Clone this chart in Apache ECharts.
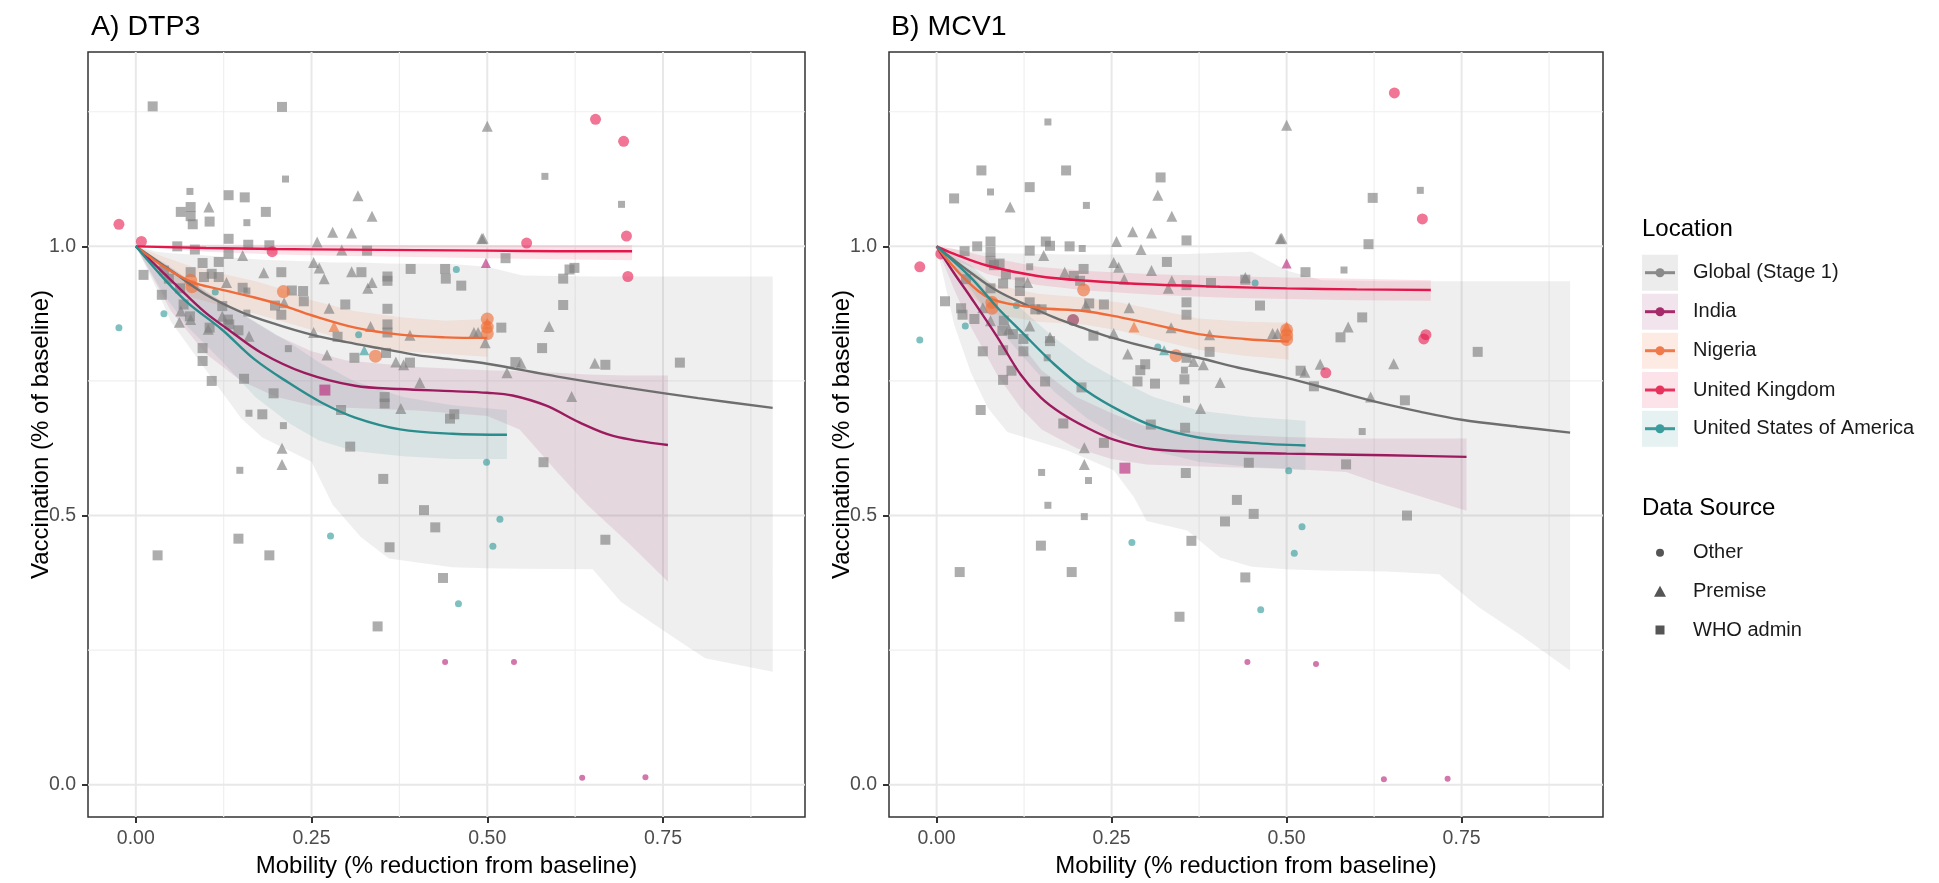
<!DOCTYPE html>
<html><head><meta charset="utf-8">
<script src="https://cdn.jsdelivr.net/npm/echarts@6/dist/echarts.min.js"></script>
<style>html,body{margin:0;padding:0;background:#fff;}#c{width:1939px;height:883px;}</style>
</head><body><div id="c"></div>
<script>
// ---------- axis ticks / labels ----------
const xTicks = [0, 0.25, 0.5, 0.75];
const xTickLabels = ['0.00', '0.25', '0.50', '0.75'];
const yTicks = [0, 0.5, 1.0];
const yTickLabels = ['0.0', '0.5', '1.0'];
const xMinor = [0.125, 0.375, 0.625, 0.875];
const yMinor = [0.25, 0.75, 1.25];
const panelTitles = ['A) DTP3', 'B) MCV1'];
const xTitle = 'Mobility (% reduction from baseline)';
const yTitle = 'Vaccination (% of baseline)';
const locations = ['Global (Stage 1)', 'India', 'Nigeria', 'United Kingdom', 'United States of America'];
const sources = ['Other', 'Premise', 'WHO admin'];

// ---------- Panel A (DTP3) ----------
const whoLargeA = [[0.024,1.26],[0.208,1.259],[0.132,1.095],[0.155,1.091],[0.064,1.064],[0.078,1.073],[0.078,1.056],[0.081,1.041],[0.105,1.046],[0.185,1.064],[0.329,0.992],[0.132,1.014],[0.132,0.986],[0.16,1.003],[0.19,1.002],[0.059,1.0],[0.084,0.994],[0.095,0.969],[0.118,0.971],[0.011,0.947],[0.04,0.955],[0.047,0.94],[0.078,0.952],[0.108,0.949],[0.097,0.943],[0.118,0.943],[0.207,0.952],[0.321,0.952],[0.358,0.944],[0.358,0.936],[0.391,0.958],[0.44,0.958],[0.441,0.94],[0.463,0.927],[0.037,0.91],[0.063,0.922],[0.152,0.923],[0.222,0.918],[0.238,0.917],[0.239,0.898],[0.198,0.89],[0.207,0.873],[0.068,0.892],[0.123,0.889],[0.077,0.87],[0.131,0.864],[0.105,0.849],[0.146,0.844],[0.133,0.855],[0.298,0.892],[0.358,0.884],[0.287,0.832],[0.358,0.855],[0.358,0.84],[0.311,0.793],[0.356,0.802],[0.39,0.784],[0.095,0.811],[0.095,0.787],[0.108,0.75],[0.154,0.754],[0.196,0.727],[0.354,0.72],[0.354,0.708],[0.292,0.696],[0.18,0.688],[0.447,0.68],[0.453,0.688],[0.305,0.628],[0.352,0.568],[0.41,0.51],[0.426,0.478],[0.146,0.457],[0.668,0.455],[0.361,0.441],[0.031,0.426],[0.19,0.426],[0.437,0.384],[0.344,0.294],[0.58,0.599],[0.526,0.978],[0.624,0.96],[0.617,0.957],[0.608,0.94],[0.608,0.891],[0.52,0.849],[0.578,0.811],[0.54,0.785],[0.668,0.78],[0.774,0.784]];
const whoSmallA = [[0.213,1.125],[0.077,1.102],[0.158,1.044],[0.158,0.917],[0.158,0.876],[0.217,0.81],[0.161,0.69],[0.21,0.667],[0.148,0.584],[0.582,1.13],[0.691,1.078]];
const premiseA = [[0.104,1.073],[0.316,1.094],[0.336,1.056],[0.28,1.026],[0.307,1.025],[0.258,1.008],[0.293,0.993],[0.152,0.983],[0.182,0.951],[0.253,0.97],[0.261,0.96],[0.268,0.94],[0.307,0.953],[0.336,0.933],[0.33,0.922],[0.492,1.014],[0.129,0.933],[0.211,0.895],[0.064,0.88],[0.123,0.87],[0.062,0.859],[0.078,0.864],[0.103,0.846],[0.161,0.833],[0.275,0.885],[0.253,0.84],[0.334,0.851],[0.39,0.835],[0.481,0.84],[0.487,0.84],[0.497,0.821],[0.272,0.798],[0.37,0.785],[0.381,0.78],[0.404,0.747],[0.377,0.699],[0.208,0.625],[0.208,0.595],[0.5,1.223],[0.494,1.015],[0.588,0.851],[0.548,0.783],[0.528,0.765],[0.653,0.783],[0.62,0.721]];
const ukOtherA = [[-0.024,1.041],[0.008,1.009],[0.194,0.99],[0.654,1.236],[0.694,1.195],[0.698,1.019],[0.556,1.006],[0.7,0.944]];
const usaOtherA = [[-0.024,0.849],[0.04,0.875],[0.113,0.915],[0.317,0.836],[0.456,0.957],[0.499,0.599],[0.518,0.493],[0.277,0.462],[0.508,0.443],[0.459,0.336]];
const usaPremiseA = [[0.325,0.807]];
const ngaOtherA = [[0.078,0.937],[0.08,0.925],[0.21,0.916],[0.341,0.796],[0.5,0.865],[0.5,0.85],[0.5,0.838]];
const ngaPremiseA = [[0.282,0.851],[0.5,0.857]];
const indWhoA = [[0.269,0.733]];
const indPremiseA = [[0.498,0.969]];
const indOtherA = [[0.44,0.228],[0.538,0.228],[0.635,0.013],[0.725,0.014]];

const globalFitA = [[0,1],[0.05,0.955],[0.1,0.91],[0.15,0.878],[0.2,0.855],[0.25,0.836],[0.3,0.822],[0.35,0.81],[0.4,0.798],[0.45,0.79],[0.5,0.782],[0.6,0.758],[0.7,0.737],[0.8,0.718],[0.906,0.7]];
const indiaFitA = [[0,1],[0.04,0.95],[0.074,0.907],[0.1,0.876],[0.131,0.846],[0.179,0.802],[0.24,0.765],[0.312,0.741],[0.376,0.735],[0.45,0.731],[0.5,0.728],[0.536,0.723],[0.584,0.704],[0.631,0.673],[0.679,0.648],[0.757,0.631]];
const nigeriaFitA = [[0,1],[0.04,0.962],[0.079,0.934],[0.12,0.92],[0.169,0.905],[0.21,0.89],[0.25,0.872],[0.312,0.849],[0.376,0.836],[0.44,0.831],[0.5,0.83]];
const ukFitA = [[0,1],[0.1,0.997],[0.2,0.995],[0.3,0.994],[0.4,0.993],[0.5,0.992],[0.6,0.991],[0.706,0.991]];
const usaFitA = [[0,1],[0.04,0.94],[0.074,0.895],[0.122,0.846],[0.169,0.79],[0.217,0.747],[0.264,0.71],[0.312,0.682],[0.376,0.66],[0.45,0.652],[0.528,0.65]];

const globalBandA = [[0,1,1],[0.03,0.92,0.99],[0.05,0.86,0.987],[0.1,0.77,0.983],[0.15,0.68,0.978],[0.18,0.645,0.975],[0.25,0.6,0.972],[0.28,0.52,0.97],[0.32,0.46,0.97],[0.36,0.42,0.968],[0.45,0.404,0.967],[0.5,0.402,0.962],[0.55,0.401,0.946],[0.65,0.4,0.944],[0.69,0.34,0.944],[0.76,0.278,0.944],[0.81,0.235,0.944],[0.906,0.21,0.944]];
const indiaBandA = [[0,1,1],[0.05,0.88,0.96],[0.1,0.8,0.915],[0.15,0.75,0.875],[0.2,0.72,0.835],[0.25,0.705,0.805],[0.3,0.7,0.788],[0.4,0.695,0.776],[0.5,0.685,0.77],[0.546,0.66,0.768],[0.6,0.58,0.765],[0.642,0.52,0.762],[0.7,0.45,0.76],[0.757,0.377,0.76]];
const nigeriaBandA = [[0,1,1],[0.04,0.94,0.98],[0.08,0.905,0.962],[0.12,0.89,0.95],[0.17,0.875,0.935],[0.21,0.86,0.92],[0.25,0.845,0.9],[0.31,0.82,0.88],[0.38,0.805,0.868],[0.44,0.8,0.862],[0.5,0.795,0.865]];
const ukBandA = [[0,1,1],[0.1,0.99,1.003],[0.2,0.985,1.003],[0.3,0.982,1.003],[0.4,0.98,1.002],[0.5,0.978,1.002],[0.6,0.976,1.002],[0.706,0.974,1.002]];
const usaBandA = [[0,1,1],[0.04,0.91,0.97],[0.074,0.85,0.94],[0.12,0.79,0.9],[0.17,0.72,0.86],[0.22,0.67,0.82],[0.26,0.64,0.785],[0.31,0.62,0.75],[0.38,0.61,0.72],[0.45,0.605,0.705],[0.528,0.605,0.696]];

// ---------- Panel B (MCV1) ----------
const whoLargeB = [[0.064,1.141],[0.185,1.141],[0.025,1.089],[0.133,1.11],[0.32,1.128],[0.357,1.011],[0.329,0.971],[0.04,0.991],[0.058,1.0],[0.077,1.009],[0.077,0.99],[0.077,0.973],[0.082,0.965],[0.09,0.968],[0.133,0.992],[0.156,1.009],[0.162,1.001],[0.19,1.0],[0.196,0.945],[0.21,0.958],[0.205,0.936],[0.357,0.928],[0.392,0.932],[0.441,0.938],[0.462,0.89],[0.357,0.896],[0.357,0.873],[0.239,0.892],[0.218,0.894],[0.224,0.834],[0.39,0.804],[0.357,0.793],[0.298,0.781],[0.291,0.77],[0.287,0.749],[0.312,0.745],[0.354,0.753],[0.355,0.663],[0.306,0.669],[0.239,0.635],[0.181,0.671],[0.207,0.738],[0.155,0.749],[0.133,0.896],[0.15,0.883],[0.141,0.883],[0.119,0.933],[0.119,0.917],[0.095,0.931],[0.099,0.948],[0.077,0.922],[0.042,0.939],[0.012,0.898],[0.035,0.885],[0.037,0.873],[0.054,0.865],[0.066,0.805],[0.096,0.862],[0.094,0.843],[0.109,0.837],[0.124,0.828],[0.124,0.805],[0.095,0.807],[0.107,0.769],[0.095,0.752],[0.063,0.696],[0.162,0.824],[0.623,1.09],[0.617,1.004],[0.527,0.952],[0.608,0.868],[0.577,0.831],[0.773,0.804],[0.52,0.769],[0.539,0.74],[0.669,0.714],[0.149,0.444],[0.033,0.395],[0.193,0.395],[0.356,0.579],[0.446,0.598],[0.585,0.595],[0.429,0.529],[0.453,0.503],[0.412,0.489],[0.364,0.453],[0.441,0.385],[0.347,0.312],[0.672,0.5]];
const whoSmallB = [[0.159,1.231],[0.077,1.101],[0.214,1.076],[0.133,0.962],[0.208,0.996],[0.158,0.793],[0.354,0.77],[0.357,0.716],[0.691,1.104],[0.582,0.956],[0.608,0.656],[0.15,0.58],[0.217,0.565],[0.159,0.519],[0.211,0.498]];
const premiseB = [[0.105,1.073],[0.316,1.095],[0.336,1.056],[0.28,1.027],[0.307,1.025],[0.257,1.009],[0.292,0.994],[0.153,0.983],[0.183,0.952],[0.253,0.97],[0.26,0.961],[0.268,0.939],[0.307,0.955],[0.336,0.936],[0.331,0.922],[0.441,0.942],[0.491,1.014],[0.213,0.89],[0.275,0.886],[0.253,0.838],[0.335,0.849],[0.39,0.836],[0.48,0.838],[0.487,0.838],[0.367,0.786],[0.381,0.78],[0.405,0.747],[0.273,0.8],[0.377,0.699],[0.162,0.831],[0.133,0.852],[0.13,0.933],[0.066,0.886],[0.077,0.862],[0.103,0.846],[0.5,1.225],[0.493,1.015],[0.588,0.85],[0.653,0.782],[0.526,0.766],[0.548,0.781],[0.62,0.72],[0.211,0.626],[0.211,0.595]];
const ukOtherB = [[-0.024,0.962],[0.006,0.986],[0.654,1.285],[0.694,1.051],[0.699,0.836],[0.696,0.828],[0.556,0.765]];
const usaOtherB = [[-0.024,0.826],[0.041,0.852],[0.114,0.89],[0.316,0.813],[0.455,0.932],[0.503,0.583],[0.279,0.45],[0.522,0.479],[0.511,0.43],[0.463,0.325]];
const usaPremiseB = [[0.325,0.807]];
const ngaOtherB = [[0.079,0.896],[0.079,0.885],[0.21,0.919],[0.342,0.797],[0.5,0.845],[0.5,0.835],[0.5,0.827]];
const ngaPremiseB = [[0.282,0.85],[0.5,0.85]];
const indWhoB = [[0.269,0.588]];
const indPremiseB = [[0.5,0.968]];
const indOtherB = [[0.444,0.228],[0.542,0.224],[0.639,0.01],[0.73,0.011]];
const indOtherLargeB = [[0.195,0.863]];

const globalFitB = [[0,1],[0.05,0.95],[0.087,0.917],[0.13,0.89],[0.168,0.868],[0.21,0.848],[0.249,0.831],[0.31,0.81],[0.374,0.793],[0.43,0.775],[0.498,0.756],[0.56,0.735],[0.625,0.712],[0.69,0.693],[0.75,0.678],[0.83,0.665],[0.905,0.654]];
const indiaFitB = [[0,1],[0.025,0.95],[0.049,0.905],[0.087,0.831],[0.12,0.762],[0.149,0.719],[0.177,0.691],[0.215,0.663],[0.253,0.641],[0.31,0.623],[0.4,0.618],[0.5,0.615],[0.643,0.612],[0.757,0.609]];
const nigeriaFitB = [[0,1],[0.04,0.94],[0.079,0.902],[0.144,0.886],[0.21,0.88],[0.263,0.868],[0.31,0.855],[0.374,0.837],[0.44,0.828],[0.503,0.823]];
const ukFitB = [[0,1],[0.025,0.986],[0.073,0.964],[0.144,0.945],[0.215,0.936],[0.31,0.929],[0.405,0.925],[0.5,0.922],[0.6,0.92],[0.706,0.919]];
const usaFitB = [[0,1],[0.049,0.942],[0.087,0.886],[0.12,0.843],[0.168,0.781],[0.215,0.731],[0.263,0.694],[0.31,0.666],[0.374,0.645],[0.45,0.635],[0.527,0.63]];

const globalBandB = [[0,1,1],[0.025,0.855,0.995],[0.049,0.765,0.99],[0.073,0.7,0.988],[0.101,0.655,0.987],[0.187,0.621,0.985],[0.253,0.584,0.985],[0.282,0.534,0.985],[0.3,0.49,0.985],[0.358,0.472,0.986],[0.405,0.422,0.988],[0.45,0.405,0.99],[0.5,0.4,0.955],[0.55,0.398,0.937],[0.643,0.396,0.935],[0.718,0.391,0.935],[0.775,0.329,0.935],[0.833,0.279,0.935],[0.905,0.212,0.935]];
const indiaBandB = [[0,1,1],[0.025,0.92,0.975],[0.049,0.85,0.95],[0.087,0.76,0.89],[0.12,0.7,0.82],[0.15,0.66,0.77],[0.2,0.625,0.72],[0.25,0.605,0.69],[0.3,0.595,0.665],[0.4,0.59,0.652],[0.5,0.587,0.646],[0.585,0.581,0.643],[0.633,0.559,0.643],[0.68,0.54,0.643],[0.757,0.509,0.643]];
const nigeriaBandB = [[0,1,1],[0.04,0.92,0.965],[0.079,0.875,0.93],[0.144,0.86,0.912],[0.21,0.855,0.905],[0.263,0.843,0.895],[0.31,0.828,0.883],[0.374,0.808,0.866],[0.44,0.797,0.86],[0.503,0.79,0.858]];
const ukBandB = [[0,1,1],[0.025,0.975,0.995],[0.073,0.948,0.98],[0.144,0.928,0.962],[0.215,0.918,0.954],[0.31,0.91,0.948],[0.405,0.905,0.945],[0.5,0.902,0.942],[0.6,0.9,0.94],[0.706,0.899,0.937]];
const usaBandB = [[0,1,1],[0.049,0.92,0.965],[0.087,0.85,0.92],[0.12,0.8,0.885],[0.168,0.73,0.83],[0.215,0.68,0.785],[0.263,0.645,0.75],[0.31,0.62,0.72],[0.374,0.6,0.695],[0.45,0.59,0.683],[0.527,0.584,0.676]];

// ---------- styles ----------
const FONT = "'Liberation Sans', Arial, sans-serif";
const lineCol = ['#6e6e6e', '#9c1b5e', '#ef6c3a', '#e3174b', '#2a8c8c'];
const bandCol = ['rgba(128,128,128,0.13)', 'rgba(156,27,94,0.11)', 'rgba(240,112,58,0.12)', 'rgba(227,23,75,0.12)', 'rgba(42,140,140,0.11)'];
const ptGray = 'rgba(127,127,127,0.8)';
const ptUK = 'rgba(232,25,79,0.75)';
const ptUSA = 'rgba(42,150,150,0.75)';
const ptNGA = 'rgba(240,112,58,0.8)';
const ptIND = 'rgba(184,40,124,0.8)';

function gridLinesSeries(gi) {
  return {
    type: 'custom', xAxisIndex: gi, yAxisIndex: gi, silent: true, z: 0,
    data: [[0, 0]],
    renderItem: function (params, api) {
      const cs = params.coordSys;
      const ch = [];
      const add = (arr, vertical, w, col) => arr.forEach(v => {
        if (vertical) {
          const p = api.coord([v, 0]);
          ch.push({ type: 'line', shape: { x1: p[0], y1: cs.y, x2: p[0], y2: cs.y + cs.height }, style: { stroke: col, lineWidth: w } });
        } else {
          const p = api.coord([0, v]);
          ch.push({ type: 'line', shape: { x1: cs.x, y1: p[1], x2: cs.x + cs.width, y2: p[1] }, style: { stroke: col, lineWidth: w } });
        }
      });
      add(xMinor, true, 1.2, '#efefef'); add(yMinor, false, 1.2, '#efefef');
      add(xTicks, true, 2, '#e8e8e8'); add(yTicks, false, 2, '#e8e8e8');
      return { type: 'group', children: ch };
    }
  };
}
function bandSeries(gi, band, col) {
  return {
    type: 'custom', xAxisIndex: gi, yAxisIndex: gi, silent: true, z: 1,
    data: band, encode: { x: 0, y: [1, 2] },
    renderItem: function (params, api) {
      if (params.dataIndex !== 0) return null;
      const up = band.map(d => api.coord([d[0], d[2]]));
      const lo = band.map(d => api.coord([d[0], d[1]])).reverse();
      return { type: 'polygon', shape: { points: up.concat(lo) }, style: { fill: col } };
    }
  };
}
function lineSeries(gi, data, col) {
  return { type: 'line', xAxisIndex: gi, yAxisIndex: gi, data: data, smooth: 0.35, showSymbol: false, silent: true, z: 4,
    lineStyle: { color: col, width: 2.4 } };
}
function scat(gi, data, symbol, size, col) {
  return { type: 'scatter', xAxisIndex: gi, yAxisIndex: gi, data: data, symbol: symbol, symbolSize: size, silent: true, z: 3,
    itemStyle: { color: col } };
}

function panelSeries(gi, P) {
  return [
    gridLinesSeries(gi),
    bandSeries(gi, P.bands[0], bandCol[0]),
    bandSeries(gi, P.bands[1], bandCol[1]),
    bandSeries(gi, P.bands[2], bandCol[2]),
    bandSeries(gi, P.bands[3], bandCol[3]),
    bandSeries(gi, P.bands[4], bandCol[4]),
    scat(gi, P.whoLarge, 'rect', 10, ptGray),
    scat(gi, P.whoSmall, 'rect', 7, ptGray),
    scat(gi, P.premise, 'triangle', 11, ptGray),
    scat(gi, P.ukOther, 'circle', 11, ptUK),
    scat(gi, P.usaOther, 'circle', 7, ptUSA),
    scat(gi, P.usaPremise, 'triangle', 10, ptUSA),
    scat(gi, P.ngaOther, 'circle', 13, ptNGA),
    scat(gi, P.ngaPremise, 'triangle', 11, ptNGA),
    scat(gi, P.indWho, 'rect', 11, ptIND),
    scat(gi, P.indPremise, 'triangle', 10, ptIND),
    scat(gi, P.indOther, 'circle', 6, ptIND),
    scat(gi, P.indOtherLarge || [], 'circle', 12, 'rgba(140,40,80,0.75)'),
    lineSeries(gi, P.fits[0], lineCol[0]),
    lineSeries(gi, P.fits[1], lineCol[1]),
    lineSeries(gi, P.fits[2], lineCol[2]),
    lineSeries(gi, P.fits[3], lineCol[3]),
    lineSeries(gi, P.fits[4], lineCol[4])
  ];
}

const PA = { whoLarge: whoLargeA, whoSmall: whoSmallA, premise: premiseA, ukOther: ukOtherA, usaOther: usaOtherA, usaPremise: usaPremiseA,
  ngaOther: ngaOtherA, ngaPremise: ngaPremiseA, indWho: indWhoA, indPremise: indPremiseA, indOther: indOtherA,
  fits: [globalFitA, indiaFitA, nigeriaFitA, ukFitA, usaFitA], bands: [globalBandA, indiaBandA, nigeriaBandA, ukBandA, usaBandA] };
const PB = { whoLarge: whoLargeB, whoSmall: whoSmallB, premise: premiseB, ukOther: ukOtherB, usaOther: usaOtherB, usaPremise: usaPremiseB,
  ngaOther: ngaOtherB, ngaPremise: ngaPremiseB, indWho: indWhoB, indPremise: indPremiseB, indOther: indOtherB, indOtherLarge: indOtherLargeB,
  fits: [globalFitB, indiaFitB, nigeriaFitB, ukFitB, usaFitB], bands: [globalBandB, indiaBandB, nigeriaBandB, ukBandB, usaBandB] };

function lab(ticks, labels) {
  return v => { const i = ticks.findIndex(t => Math.abs(t - v) < 1e-9); return i >= 0 ? labels[i] : ''; };
}
function xAxisDef(gi) {
  return {
    type: 'value', gridIndex: gi, min: -0.068, max: 0.952,
    name: xTitle, nameLocation: 'middle', nameGap: 37,
    nameTextStyle: { fontSize: 24, color: '#000', fontFamily: FONT },
    axisLine: { show: false, onZero: false }, splitLine: { show: false },
    axisTick: { show: true, customValues: xTicks, length: 6, lineStyle: { color: '#333', width: 2 } },
    axisLabel: { customValues: xTicks, formatter: lab(xTicks, xTickLabels), fontSize: 19.5, color: '#4d4d4d', margin: 12, fontFamily: FONT }
  };
}
function yAxisDef(gi) {
  return {
    type: 'value', gridIndex: gi, min: -0.06, max: 1.361,
    name: yTitle, nameLocation: 'middle', nameGap: 35, nameRotate: 90, nameMoveOverlap: false,
    nameTextStyle: { fontSize: 24, color: '#000', fontFamily: FONT },
    axisLine: { show: false, onZero: false }, splitLine: { show: false },
    axisTick: { show: true, customValues: yTicks, length: 6, lineStyle: { color: '#333', width: 2 } },
    axisLabel: { customValues: yTicks, formatter: lab(yTicks, yTickLabels), fontSize: 19.5, color: '#4d4d4d', margin: 12, fontFamily: FONT }
  };
}

// ---------- legend (graphic) ----------
const legendG = [];
const LX = 1642;
legendG.push({ type: 'text', left: LX, top: 217, style: { text: 'Location', fontSize: 24, fill: '#000', fontFamily: FONT } });
const locY = [272.7, 311.7, 350.7, 390, 428.7];
const keyBg = ['#ececec', '#f1e4ec', '#fdeae2', '#fce3e9', '#e6f1f1'];
const keyLine = ['#8a8a8a', '#a42a6a', '#f07a4a', '#e8325e', '#3a9c9c'];
locations.forEach((name, i) => {
  const cy = locY[i];
  legendG.push({ type: 'rect', shape: { x: LX, y: cy - 18, width: 36, height: 36 }, style: { fill: keyBg[i] } });
  legendG.push({ type: 'line', shape: { x1: LX + 3, y1: cy, x2: LX + 33, y2: cy }, style: { stroke: keyLine[i], lineWidth: 3 } });
  legendG.push({ type: 'circle', shape: { cx: LX + 18, cy: cy, r: 4.5 }, style: { fill: keyLine[i] } });
  legendG.push({ type: 'text', x: LX + 51, y: cy, style: { text: name, fontSize: 20, fill: '#1a1a1a', fontFamily: FONT, verticalAlign: 'middle' } });
});
legendG.push({ type: 'text', left: LX, top: 496, style: { text: 'Data Source', fontSize: 24, fill: '#000', fontFamily: FONT } });
const srcY = [552.7, 591.7, 630];
legendG.push({ type: 'circle', shape: { cx: LX + 18, cy: srcY[0], r: 4 }, style: { fill: '#555' } });
legendG.push({ type: 'polygon', shape: { points: [[LX + 18, srcY[1] - 6], [LX + 24, srcY[1] + 5], [LX + 12, srcY[1] + 5]] }, style: { fill: '#555' } });
legendG.push({ type: 'rect', shape: { x: LX + 13.5, y: srcY[2] - 4.5, width: 9, height: 9 }, style: { fill: '#555' } });
sources.forEach((name, i) => {
  legendG.push({ type: 'text', x: LX + 51, y: srcY[i], style: { text: name, fontSize: 20, fill: '#1a1a1a', fontFamily: FONT, verticalAlign: 'middle' } });
});

const chart = echarts.init(document.getElementById('c'), null, { renderer: 'canvas' });
chart.setOption({
  animation: false,
  backgroundColor: '#fff',
  textStyle: { fontFamily: FONT },
  title: [
    { text: panelTitles[0], left: 86, top: 8, textStyle: { fontSize: 28.5, fontWeight: 'normal', color: '#000', fontFamily: FONT } },
    { text: panelTitles[1], left: 886, top: 8, textStyle: { fontSize: 28.5, fontWeight: 'normal', color: '#000', fontFamily: FONT } }
  ],
  grid: [
    { left: 88, top: 52, width: 717, height: 767, show: true, borderColor: '#333', borderWidth: 1.5, backgroundColor: 'transparent' },
    { left: 889, top: 52, width: 714, height: 767, show: true, borderColor: '#333', borderWidth: 1.5, backgroundColor: 'transparent' }
  ],
  xAxis: [xAxisDef(0), xAxisDef(1)],
  yAxis: [yAxisDef(0), yAxisDef(1)],
  series: panelSeries(0, PA).concat(panelSeries(1, PB)),
  graphic: legendG
});
</script></body></html>
